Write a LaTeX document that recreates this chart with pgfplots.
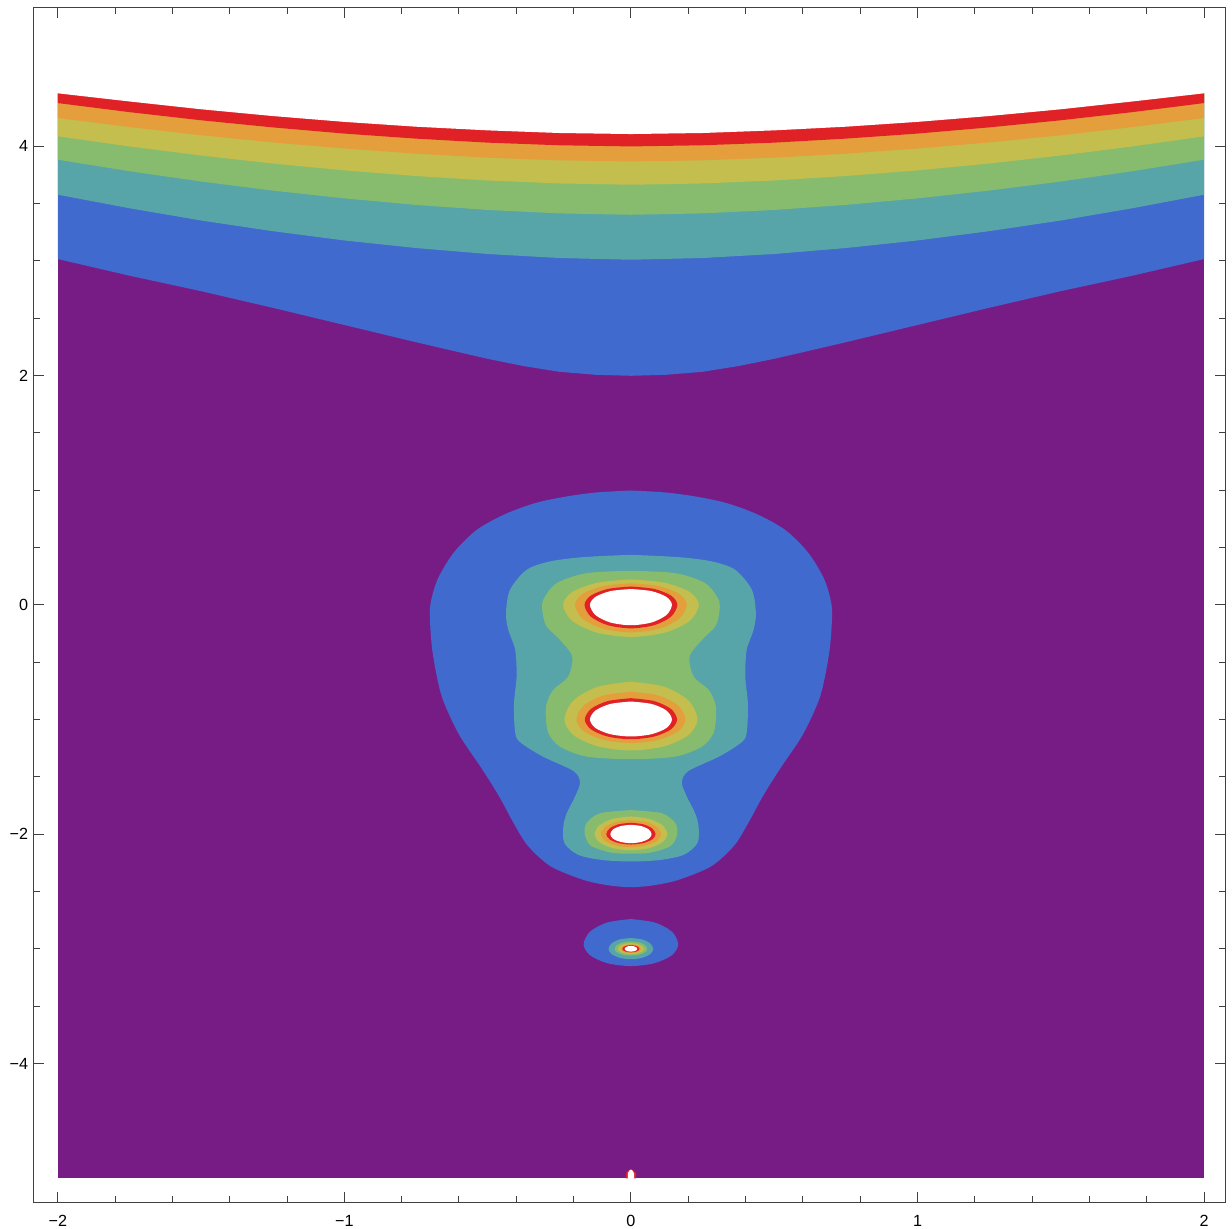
\documentclass[border=0pt]{standalone}
\usepackage{pgfplots}
\pgfplotsset{compat=1.18}
\usepackage{fontspec}
\setmainfont{Liberation Sans}
\definecolor{cPurple}{RGB}{120,28,133}
\definecolor{cBlue}{RGB}{65,106,206}
\definecolor{cTeal}{RGB}{87,165,168}
\definecolor{cGreen}{RGB}{135,188,110}
\definecolor{cYellow}{RGB}{195,190,78}
\definecolor{cOrange}{RGB}{228,158,60}
\definecolor{cRed}{RGB}{224,34,38}
\begin{document}
\begin{tikzpicture}
\path[use as bounding box] (-8.5mm,-6.5mm) rectangle (299.5mm,300.5mm);
\begin{axis}[
  at={(0,0)}, anchor=south west,
  scale only axis, width=297.75mm, height=298.5mm,
  xmin=-2.083, xmax=2.073, ymin=-5.207, ymax=5.204,
  axis on top,
  xtick={-2,-1,0,1,2}, xticklabels={−2,−1,0,1,2},
  ytick={-4,-2,0,2,4}, yticklabels={−4,−2,0,2,4},
  minor x tick num=4, minor y tick num=3,
  tick align=inside,
  major tick length=2.6mm, minor tick length=1.6mm,
  tick style={black!75, line width=0.25mm},
  axis line style={black!75, line width=0.25mm},
  tick label style={font=\fontsize{11.5}{13}\selectfont, inner sep=0pt},
  xticklabel style={yshift=-3.2mm},
  yticklabel style={xshift=-1.4mm},
]
% background
\addplot[draw=none, fill=cPurple] coordinates {(-2,-5) (2,-5) (2,5) (-2,5)};
% top bands
\addplot[draw=none, fill=cBlue] coordinates {(-2,3.015) (-1.75,2.87) (-1.5,2.735) (-1.25,2.59) (-1,2.44) (-0.75,2.29) (-0.625,2.217) (-0.5,2.145) (-0.375,2.082) (-0.25,2.032) (-0.125,2.006) (0,1.997) (0.125,2.006) (0.25,2.032) (0.375,2.082) (0.5,2.145) (0.625,2.217) (0.75,2.29) (1,2.44) (1.25,2.59) (1.5,2.735) (1.75,2.87) (2,3.015) (2,5) (-2,5)};
\addplot[draw=none, fill=cTeal] coordinates {(-2,3.576) (-1.75,3.458) (-1.5,3.351) (-1.25,3.258) (-1,3.177) (-0.75,3.111) (-0.5,3.059) (-0.25,3.024) (0,3.009) (0.25,3.024) (0.5,3.059) (0.75,3.111) (1,3.177) (1.25,3.258) (1.5,3.351) (1.75,3.458) (2,3.576) (2,5) (-2,5)};
\addplot[draw=none, fill=cGreen] coordinates {(-2,3.881) (-1.75,3.781) (-1.5,3.691) (-1.25,3.612) (-1,3.544) (-0.75,3.487) (-0.5,3.443) (-0.25,3.413) (0,3.401) (0.25,3.413) (0.5,3.443) (0.75,3.487) (1,3.544) (1.25,3.612) (1.5,3.691) (1.75,3.781) (2,3.881) (2,5) (-2,5)};
\addplot[draw=none, fill=cYellow] coordinates {(-2,4.085) (-1.75,3.997) (-1.5,3.918) (-1.25,3.848) (-1,3.788) (-0.75,3.739) (-0.5,3.700) (-0.25,3.674) (0,3.663) (0.25,3.674) (0.5,3.700) (0.75,3.739) (1,3.788) (1.25,3.848) (1.5,3.918) (1.75,3.997) (2,4.085) (2,5) (-2,5)};
\addplot[draw=none, fill=cOrange] coordinates {(-2,4.245) (-1.75,4.166) (-1.5,4.095) (-1.25,4.032) (-1,3.979) (-0.75,3.934) (-0.5,3.899) (-0.25,3.876) (0,3.866) (0.25,3.876) (0.5,3.899) (0.75,3.934) (1,3.979) (1.25,4.032) (1.5,4.095) (1.75,4.166) (2,4.245) (2,5) (-2,5)};
\addplot[draw=none, fill=cRed] coordinates {(-2,4.375) (-1.75,4.296) (-1.5,4.225) (-1.25,4.163) (-1,4.109) (-0.75,4.065) (-0.5,4.03) (-0.25,4.007) (0,3.997) (0.25,4.007) (0.5,4.03) (0.75,4.065) (1,4.109) (1.25,4.163) (1.5,4.225) (1.75,4.296) (2,4.375) (2,5) (-2,5)};
\addplot[draw=none, fill=white] coordinates {(-2.01,4.463) (-1.75,4.389) (-1.5,4.321) (-1.25,4.262) (-1,4.211) (-0.75,4.169) (-0.5,4.137) (-0.25,4.114) (0,4.105) (0.25,4.114) (0.5,4.137) (0.75,4.169) (1,4.211) (1.25,4.262) (1.5,4.321) (1.75,4.389) (2.01,4.463) (2.01,5.1) (-2.01,5.1)};
% big blob
\addplot[draw=none, fill=cBlue, smooth] coordinates {(0,0.997) (-0.12,0.98) (-0.224,0.945) (-0.33,0.89) (-0.44,0.79) (-0.54,0.65) (-0.62,0.45) (-0.675,0.22) (-0.7,0.0) (-0.7,-0.2) (-0.69,-0.45) (-0.66,-0.8) (-0.60,-1.13) (-0.52,-1.43) (-0.46,-1.67) (-0.41,-1.9) (-0.36,-2.1) (-0.28,-2.28) (-0.166,-2.398) (-0.08,-2.445) (0,-2.462) (0.08,-2.445) (0.166,-2.398) (0.28,-2.28) (0.36,-2.1) (0.41,-1.9) (0.46,-1.67) (0.52,-1.43) (0.60,-1.13) (0.66,-0.8) (0.69,-0.45) (0.7,-0.2) (0.7,0.0) (0.675,0.22) (0.62,0.45) (0.54,0.65) (0.44,0.79) (0.33,0.89) (0.224,0.945) (0.12,0.98) (0,0.997)};
\addplot[draw=none, fill=cTeal, smooth] coordinates {(0,0.436) (-0.166,0.416) (-0.283,0.378) (-0.364,0.305) (-0.422,0.131) (-0.436,-0.073) (-0.428,-0.218) (-0.404,-0.392) (-0.399,-0.625) (-0.408,-0.858) (-0.405,-1.09) (-0.39,-1.19) (-0.31,-1.32) (-0.2,-1.45) (-0.178,-1.55) (-0.195,-1.672) (-0.224,-1.817) (-0.236,-1.933) (-0.232,-2.078) (-0.184,-2.18) (-0.1,-2.225) (0,-2.238) (0.1,-2.225) (0.184,-2.18) (0.232,-2.078) (0.236,-1.933) (0.224,-1.817) (0.195,-1.672) (0.178,-1.55) (0.2,-1.45) (0.31,-1.32) (0.39,-1.19) (0.405,-1.09) (0.408,-0.858) (0.399,-0.625) (0.404,-0.392) (0.428,-0.218) (0.436,-0.073) (0.422,0.131) (0.364,0.305) (0.283,0.378) (0.166,0.416) (0,0.436)};
\addplot[draw=none, fill=cGreen, smooth] coordinates {(0,0.297) (-0.155,0.276) (-0.259,0.189) (-0.306,0.044) (-0.308,-0.073) (-0.294,-0.189) (-0.248,-0.305) (-0.205,-0.45) (-0.219,-0.625) (-0.271,-0.741) (-0.294,-0.858) (-0.297,-0.974) (-0.288,-1.119) (-0.248,-1.236) (-0.155,-1.323) (0,-1.346) (0.155,-1.323) (0.248,-1.236) (0.288,-1.119) (0.297,-0.974) (0.294,-0.858) (0.271,-0.741) (0.219,-0.625) (0.205,-0.45) (0.248,-0.305) (0.294,-0.189) (0.308,-0.073) (0.306,0.044) (0.259,0.189) (0.155,0.276) (0,0.297)};
\addplot[draw=none, fill=cGreen, smooth] coordinates {(0,-1.79) (-0.108,-1.817) (-0.155,-1.904) (-0.161,-2.0) (-0.14,-2.1) (-0.07,-2.16) (0,-2.17) (0.07,-2.16) (0.14,-2.1) (0.161,-2.0) (0.155,-1.904) (0.108,-1.817) (0,-1.79)};
% yellow rings
\addplot[draw=none, fill=cYellow, smooth] coordinates {(0,0.222) (-0.1185,0.1923) (-0.2052,0.111) (-0.237,0) (-0.2052,-0.14) (-0.1185,-0.2425) (0,-0.28) (0.1185,-0.2425) (0.2052,-0.14) (0.237,0) (0.2052,0.111) (0.1185,0.1923) (0,0.222)};
\addplot[draw=none, fill=cYellow, smooth] coordinates {(0,-0.67) (-0.116,-0.7142) (-0.2009,-0.835) (-0.232,-1) (-0.2009,-1.135) (-0.116,-1.2338) (0,-1.27) (0.116,-1.2338) (0.2009,-1.135) (0.232,-1) (0.2009,-0.835) (0.116,-0.7142) (0,-0.67)};
\addplot[draw=none, fill=cYellow, smooth] coordinates {(0,-1.845) (-0.0635,-1.8658) (-0.11,-1.9225) (-0.127,-2) (-0.11,-2.07) (-0.0635,-2.1212) (0,-2.14) (0.0635,-2.1212) (0.11,-2.07) (0.127,-2) (0.11,-1.9225) (0.0635,-1.8658) (0,-1.845)};
% orange rings
\addplot[draw=none, fill=cOrange, smooth] coordinates {(0,0.188) (-0.0975,0.1628) (-0.1689,0.094) (-0.195,0) (-0.1689,-0.12) (-0.0975,-0.2078) (0,-0.24) (0.0975,-0.2078) (0.1689,-0.12) (0.195,0) (0.1689,0.094) (0.0975,0.1628) (0,0.188)};
\addplot[draw=none, fill=cOrange, smooth] coordinates {(0,-0.758) (-0.095,-0.7904) (-0.1645,-0.879) (-0.19,-1) (-0.1645,-1.1025) (-0.095,-1.1775) (0,-1.205) (0.095,-1.1775) (0.1645,-1.1025) (0.19,-1) (0.1645,-0.879) (0.095,-0.7904) (0,-0.758)};
\addplot[draw=none, fill=cOrange, smooth] coordinates {(0,-1.878) (-0.0525,-1.8943) (-0.0909,-1.939) (-0.105,-2) (-0.0909,-2.0565) (-0.0525,-2.0979) (0,-2.113) (0.0525,-2.0979) (0.0909,-2.0565) (0.105,-2) (0.0909,-1.939) (0.0525,-1.8943) (0,-1.878)};
% red rings
\addplot[draw=none, fill=cRed, smooth] coordinates {(0,0.16) (-0.081,0.1386) (-0.1403,0.08) (-0.162,0) (-0.1403,-0.1025) (-0.081,-0.1775) (0,-0.205) (0.081,-0.1775) (0.1403,-0.1025) (0.162,0) (0.1403,0.08) (0.081,0.1386) (0,0.16)};
\addplot[draw=none, fill=cRed, smooth] coordinates {(0,-0.814) (-0.0805,-0.8389) (-0.1394,-0.907) (-0.161,-1) (-0.1394,-1.086) (-0.0805,-1.149) (0,-1.172) (0.0805,-1.149) (0.1394,-1.086) (0.161,-1) (0.1394,-0.907) (0.0805,-0.8389) (0,-0.814)};
\addplot[draw=none, fill=cRed, smooth] coordinates {(0,-1.9) (-0.043,-1.9134) (-0.0745,-1.95) (-0.086,-2) (-0.0745,-2.045) (-0.043,-2.0779) (0,-2.09) (0.043,-2.0779) (0.0745,-2.045) (0.086,-2) (0.0745,-1.95) (0.043,-1.9134) (0,-1.9)};
% white holes
\addplot[draw=none, fill=white, smooth] coordinates {(0,0.138) (-0.0715,0.1195) (-0.1238,0.069) (-0.143,0) (-0.1238,-0.089) (-0.0715,-0.1541) (0,-0.178) (0.0715,-0.1541) (0.1238,-0.089) (0.143,0) (0.1238,0.069) (0.0715,0.1195) (0,0.138)};
\addplot[draw=none, fill=white, smooth] coordinates {(0,-0.843) (-0.0715,-0.864) (-0.1238,-0.9215) (-0.143,-1) (-0.1238,-1.074) (-0.0715,-1.1282) (0,-1.148) (0.0715,-1.1282) (0.1238,-1.074) (0.143,-1) (0.1238,-0.9215) (0.0715,-0.864) (0,-0.843)};
\addplot[draw=none, fill=white, smooth] coordinates {(0,-1.918) (-0.036,-1.929) (-0.0624,-1.959) (-0.072,-2) (-0.0624,-2.039) (-0.036,-2.0675) (0,-2.078) (0.036,-2.0675) (0.0624,-2.039) (0.072,-2) (0.0624,-1.959) (0.036,-1.929) (0,-1.918)};
% small blob at -3
\addplot[draw=none, fill=cBlue, smooth] coordinates {(0,-2.74) (-0.0825,-2.7695) (-0.1429,-2.85) (-0.165,-2.96) (-0.1429,-3.055) (-0.0825,-3.1245) (0,-3.15) (0.0825,-3.1245) (0.1429,-3.055) (0.165,-2.96) (0.1429,-2.85) (0.0825,-2.7695) (0,-2.74)};
\addplot[draw=none, fill=cTeal, smooth] coordinates {(0,-2.905) (-0.039,-2.9177) (-0.0675,-2.9525) (-0.078,-3) (-0.0675,-3.045) (-0.039,-3.0779) (0,-3.09) (0.039,-3.0779) (0.0675,-3.045) (0.078,-3) (0.0675,-2.9525) (0.039,-2.9177) (0,-2.905)};
\addplot[draw=none, fill=cGreen, smooth] coordinates {(0,-2.935) (-0.0285,-2.9437) (-0.0494,-2.9675) (-0.057,-3) (-0.0494,-3.029) (-0.0285,-3.0502) (0,-3.058) (0.0285,-3.0502) (0.0494,-3.029) (0.057,-3) (0.0494,-2.9675) (0.0285,-2.9437) (0,-2.935)};
\addplot[draw=none, fill=cYellow, smooth] coordinates {(0,-2.95) (-0.0225,-2.9567) (-0.039,-2.975) (-0.045,-3) (-0.039,-3.0225) (-0.0225,-3.039) (0,-3.045) (0.0225,-3.039) (0.039,-3.0225) (0.045,-3) (0.039,-2.975) (0.0225,-2.9567) (0,-2.95)};
\addplot[draw=none, fill=cOrange, smooth] coordinates {(0,-2.96) (-0.018,-2.9654) (-0.0312,-2.98) (-0.036,-3) (-0.0312,-3.018) (-0.018,-3.0312) (0,-3.036) (0.018,-3.0312) (0.0312,-3.018) (0.036,-3) (0.0312,-2.98) (0.018,-2.9654) (0,-2.96)};
\addplot[draw=none, fill=cRed, smooth] coordinates {(0,-2.967) (-0.015,-2.9714) (-0.026,-2.9835) (-0.03,-3) (-0.026,-3.015) (-0.015,-3.026) (0,-3.03) (0.015,-3.026) (0.026,-3.015) (0.03,-3) (0.026,-2.9835) (0.015,-2.9714) (0,-2.967)};
\addplot[draw=none, fill=white, smooth] coordinates {(0,-2.974) (-0.011,-2.9775) (-0.019,-2.987) (-0.022,-3) (-0.019,-3.012) (-0.011,-3.0208) (0,-3.024) (0.011,-3.0208) (0.019,-3.012) (0.022,-3) (0.019,-2.987) (0.011,-2.9775) (0,-2.974)};
% pole at the bottom edge
\addplot[draw=none, fill=cRed] coordinates {(-0.018,-5) (-0.018,-4.955) (-0.008,-4.93) (0,-4.92) (0.008,-4.93) (0.018,-4.955) (0.018,-5)};
\addplot[draw=none, fill=white] coordinates {(-0.011,-5.01) (-0.011,-4.958) (-0.006,-4.935) (0,-4.924) (0.006,-4.935) (0.011,-4.958) (0.011,-5.01)};
\end{axis}
\end{tikzpicture}
\end{document}
